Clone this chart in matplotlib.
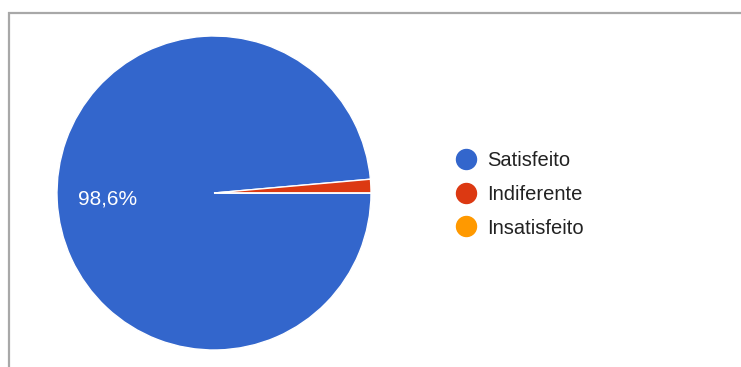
import numpy as np
import matplotlib.pyplot as plt
from matplotlib.lines import Line2D

labels = ['Satisfeito', 'Indiferente', 'Insatisfeito']
values = [98.6, 1.4, 0.0]
colors = ['#3366cc', '#dc3912', '#ff9900']
pct_labels = ['98,6%', '', '']

W, H = 741, 367
plt.rcParams['font.family'] = ['Liberation Sans', 'DejaVu Sans']

fig = plt.figure(figsize=(W / 100, H / 100), dpi=100, facecolor='white')

# frame lines (top and left) like the screenshot
fig.add_artist(Line2D([8 / W, 1], [1 - 13 / H, 1 - 13 / H], color='#a8a8a8', lw=1.6,
                      solid_capstyle='butt', transform=fig.transFigure))
fig.add_artist(Line2D([9 / W, 9 / W], [0, 1 - 12 / H], color='#a8a8a8', lw=1.6,
                      solid_capstyle='butt', transform=fig.transFigure))

# pie: centre (214, 193), radius 157 px
cx, cy, r = 214, 193, 157
ax = fig.add_axes([(cx - r) / W, (H - cy - r) / H, 2 * r / W, 2 * r / H])
wedges, _ = ax.pie(values, colors=colors, startangle=0, counterclock=False,
                   radius=1, wedgeprops=dict(edgecolor='white', linewidth=1))
ax.set_xlim(-1, 1)
ax.set_ylim(-1, 1)
ax.set_aspect('equal')
ax.axis('off')

# percentage label inside the big slice
total = sum(values)
start = 0.0
for v, txt in zip(values, pct_labels):
    ang = np.deg2rad(start - v / total * 360 / 2)
    if txt:
        ax.text(0.68 * np.cos(ang), 0.68 * np.sin(ang) - 0.01, txt, color='white',
                fontsize=15, ha='center', va='center')
    start -= v / total * 360

handles = [Line2D([], [], marker='o', linestyle='', markersize=14.4,
                  markerfacecolor=c, markeredgecolor=c) for c in colors]
fig.legend(handles, labels, loc='center left', bbox_to_anchor=(456 / W, 1 - 194.5 / H),
           frameon=False, fontsize=14.5, borderpad=0, borderaxespad=0, handlelength=1.0,
           handletextpad=0.55, labelspacing=0.72, labelcolor='#222222')

fig.savefig('out.png', dpi=100, facecolor='white')
